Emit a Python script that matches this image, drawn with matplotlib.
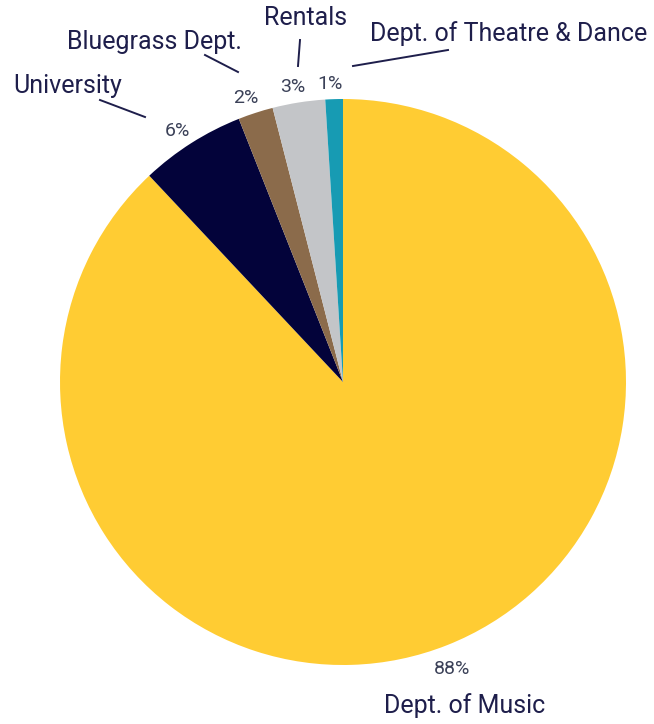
import matplotlib
matplotlib.use("Agg")
import matplotlib.pyplot as plt

plt.rcParams["font.family"] = ["Roboto", "DejaVu Sans"]

# data
categories = ["Dept. of Music", "University", "Bluegrass Dept.", "Rentals",
              "Dept. of Theatre & Dance"]
shares = [88, 6, 2, 3, 1]
colors = ["#FFCC33", "#03033A", "#8B6B4B", "#C3C5C8", "#179BB3"]

# label layout: (text offset from centre in px, leader line (inner, outer) or None)
LAYOUT = {
    "Dept. of Music":           ((122, -324), None),
    "University":               ((-275, 296), ((-198, 265), (-243, 282))),
    "Bluegrass Dept.":          ((-189, 340), ((-105, 310), (-138, 327))),
    "Rentals":                  ((-37, 364), ((-45, 316), (-43, 342))),
    "Dept. of Theatre & Dance": ((166, 348), ((10, 316), (105, 332))),
}

W, H = 654, 724
CX, CY, R = 343, H - 382, 283
TXT = "#1E1E4B"
PCT = "#3B4158"

fig = plt.figure(figsize=(W / 100, H / 100), dpi=100)
ax = fig.add_axes([0, 0, 1, 1])

wedges, _, autotexts = ax.pie(
    shares, colors=colors, startangle=90, counterclock=False,
    center=(CX, CY), radius=R, autopct="%d%%", pctdistance=1.072,
    wedgeprops=dict(linewidth=0), textprops=dict(fontsize=14, color=PCT))
for t in autotexts:
    x, y = t.get_position()
    t.set_position((x - 3, y - 5))
ax.set_xlim(0, W)
ax.set_ylim(0, H)
ax.set_aspect("equal")
ax.axis("off")

for cat, w in zip(categories, wedges):
    (tx, ty), line = LAYOUT[cat]
    ax.text(CX + tx, CY + ty, cat, ha="center", va="center",
            fontsize=18, color=TXT)
    if line:
        (x0, y0), (x1, y1) = line
        ax.plot([CX + x0, CX + x1], [CY + y0, CY + y1], color=TXT, lw=1.4)

fig.savefig("out.png", dpi=100, facecolor="white")
